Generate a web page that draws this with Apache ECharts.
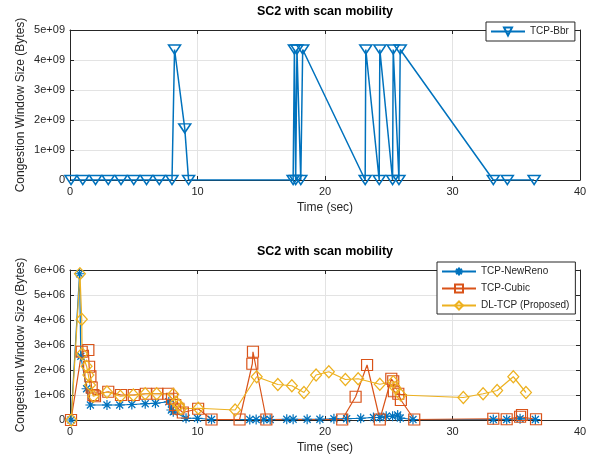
<!DOCTYPE html>
<html>
<head>
<meta charset="utf-8">
<script src="https://cdn.jsdelivr.net/npm/echarts@6/dist/echarts.min.js"></script>
<style>html,body{margin:0;padding:0;background:#fff}#c{width:596px;height:458px}</style>
</head>
<body>
<div id="c"></div>
<script>
// ---------- data ----------
const titleText = 'SC2 with scan mobility';
const xTicks = [0, 10, 20, 30, 40];

// TCP-Bbr (top panel), time in sec, cwnd in bytes
const bbrT = [0.08, 1, 2, 3, 4, 5, 6, 7, 8, 8.2, 9.0, 9.3, 17.5, 17.6, 17.7, 17.8, 18.1, 18.25, 23.15, 23.2, 24.25, 24.3, 25.3, 25.35, 25.8, 25.9, 33.2, 34.3, 36.4];
const bbrV = [0, 0, 0, 0, 0, 0, 0, 0, 0, 4.35e9, 1.72e9, 0, 0, 4.35e9, 0, 4.35e9, 0, 4.35e9, 0, 4.35e9, 0, 4.35e9, 0, 4.35e9, 0, 4.35e9, 0, 0, 0];

// TCP-NewReno (bottom panel)
const renoT = [0.08, 0.75, 0.85, 1.3, 1.6, 2.9, 3.9, 4.85, 5.9, 6.7, 7.75, 7.95, 8.1, 9.1, 10.0, 11.1, 14.1, 14.6, 15.2, 15.7, 17.0, 17.5, 18.6, 19.6, 20.7, 21.7, 22.8, 23.8, 24.3, 24.8, 25.3, 25.7, 25.9, 26.9, 33.2, 34.25, 35.3, 36.5];
const renoV = [0, 5.85e6, 2.55e6, 1.25e6, 0.6e6, 0.6e6, 0.6e6, 0.62e6, 0.65e6, 0.67e6, 0.73e6, 0.4e6, 0.33e6, 0.07e6, 0.07e6, 0.02e6, 0.02e6, 0.02e6, 0.02e6, 0.02e6, 0.03e6, 0.03e6, 0.03e6, 0.03e6, 0.05e6, 0.05e6, 0.07e6, 0.1e6, 0.1e6, 0.15e6, 0.15e6, 0.2e6, 0.08e6, 0.02e6, 0.02e6, 0.02e6, 0.05e6, 0.02e6];

// TCP-Cubic
const cubicT = [0.08, 0.92, 1.44, 1.5, 1.6, 1.7, 1.83, 1.96, 3.0, 4.0, 5.0, 5.95, 6.85, 7.7, 8.0, 8.25, 8.5, 8.85, 10.05, 11.1, 13.3, 14.3, 14.35, 15.4, 21.35, 22.4, 23.3, 24.3, 25.2, 25.35, 25.4, 25.75, 25.95, 27.0, 33.2, 34.25, 35.3, 35.45, 36.55];
const cubicV = [0, 2.73e6, 2.8e6, 2.13e6, 1.75e6, 1.3e6, 1.0e6, 0.95e6, 1.13e6, 1.0e6, 1.0e6, 1.05e6, 1.05e6, 1.05e6, 0.85e6, 0.6e6, 0.45e6, 0.3e6, 0.45e6, 0.02e6, 0.02e6, 2.25e6, 2.73e6, 0.02e6, 0.02e6, 0.93e6, 2.2e6, 0.02e6, 1.65e6, 1.55e6, 1.15e6, 1.05e6, 0.8e6, 0.02e6, 0.05e6, 0.03e6, 0.13e6, 0.2e6, 0.03e6];

// DL-TCP (Proposed)
const dlT = [0.1, 0.78, 0.92, 0.95, 1.3, 1.44, 1.57, 1.83, 2.9, 3.95, 4.97, 5.9, 6.8, 8.1, 8.3, 8.55, 8.7, 10.06, 12.95, 14.64, 16.3, 17.4, 18.35, 19.3, 20.3, 21.6, 22.6, 24.3, 25.35, 25.5, 25.95, 30.85, 32.4, 33.5, 34.77, 35.76];
const dlV = [0, 5.85e6, 4.03e6, 2.65e6, 2.15e6, 1.8e6, 1.4e6, 0.95e6, 1.12e6, 0.95e6, 1.0e6, 1.05e6, 1.05e6, 1.03e6, 0.7e6, 0.6e6, 0.45e6, 0.47e6, 0.4e6, 1.73e6, 1.42e6, 1.37e6, 1.1e6, 1.8e6, 1.93e6, 1.62e6, 1.65e6, 1.43e6, 1.53e6, 1.3e6, 1.0e6, 0.9e6, 1.05e6, 1.18e6, 1.73e6, 1.1e6];

// ---------- chart ----------
const C1 = '#0072BD', C2 = '#D95319', C3 = '#EDB120';
const FONT = '"Liberation Sans", Arial, sans-serif';
const AX = '#262626', GRID = '#e3e3e3';
const zip = (a, b) => a.map((t, i) => [t, b[i]]);
const asterisk = 'path://M0,-10L0,10M-10,0L10,0M-7,-7L7,7M-7,7L7,-7';

function mainX(gi) {
  return {
    gridIndex: gi, type: 'value', min: xTicks[0], max: xTicks[xTicks.length - 1], interval: 10,
    name: 'Time (sec)', nameLocation: 'middle', nameGap: 22,
    nameTextStyle: {fontFamily: FONT, fontSize: 12, color: AX},
    axisLine: {show: true, onZero: false, lineStyle: {color: AX, width: 1}},
    axisTick: {show: true, inside: true, length: 4, lineStyle: {color: AX}},
    axisLabel: {fontFamily: FONT, fontSize: 11, color: AX, margin: 6},
    splitLine: {show: true, lineStyle: {color: GRID, width: 1}}
  };
}
function mirrorX(gi) {
  return {
    gridIndex: gi, type: 'value', min: 0, max: 40, interval: 10, position: 'top',
    axisLine: {show: true, onZero: false, lineStyle: {color: AX, width: 1}},
    axisTick: {show: true, inside: true, length: 4, lineStyle: {color: AX}},
    axisLabel: {show: false}, splitLine: {show: false}
  };
}
function mainY(gi, max, interval, exp) {
  return {
    gridIndex: gi, type: 'value', min: 0, max: max, interval: interval,
    name: 'Congestion Window Size (Bytes)', nameLocation: 'middle', nameGap: 43,
    nameMoveOverlap: false,
    nameTextStyle: {fontFamily: FONT, fontSize: 12, color: AX},
    axisLine: {show: true, onZero: false, lineStyle: {color: AX, width: 1}},
    axisTick: {show: true, inside: true, length: 4, lineStyle: {color: AX}},
    axisLabel: {fontFamily: FONT, fontSize: 11, color: AX, margin: 5,
      formatter: v => v === 0 ? '0' : Math.round(v / interval) + exp},
    splitLine: {show: true, lineStyle: {color: GRID, width: 1}}
  };
}
function mirrorY(gi, max, interval) {
  return {
    gridIndex: gi, type: 'value', min: 0, max: max, interval: interval, position: 'right',
    axisLine: {show: true, onZero: false, lineStyle: {color: AX, width: 1}},
    axisTick: {show: true, inside: true, length: 4, lineStyle: {color: AX}},
    axisLabel: {show: false}, splitLine: {show: false}
  };
}

const chart = echarts.init(document.getElementById('c'), null, {renderer: 'canvas'});
chart.setOption({
  animation: false,
  backgroundColor: '#fff',
  title: [
    {text: titleText, left: 325, top: 5, padding: 0, textAlign: 'center',
     textStyle: {fontFamily: FONT, fontSize: 12.5, fontWeight: 'bold', color: '#000'}},
    {text: titleText, left: 325, top: 245, padding: 0, textAlign: 'center',
     textStyle: {fontFamily: FONT, fontSize: 12.5, fontWeight: 'bold', color: '#000'}}
  ],
  legend: [
    {data: ['TCP-Bbr'], left: 486, top: 22, orient: 'vertical',
     padding: [3, 6, 3, 4], itemWidth: 34, itemHeight: 10,
     borderColor: AX, borderWidth: 1, backgroundColor: '#fff', borderRadius: 0,
     textStyle: {fontFamily: FONT, fontSize: 10, color: AX}},
    {data: ['TCP-NewReno', 'TCP-Cubic', 'DL-TCP (Proposed)'],
     left: 437, top: 262, orient: 'vertical',
     padding: [3, 6, 2, 4], itemWidth: 34, itemHeight: 10, itemGap: 4,
     borderColor: AX, borderWidth: 1, backgroundColor: '#fff', borderRadius: 0,
     textStyle: {fontFamily: FONT, fontSize: 10, color: AX}}
  ],
  grid: [
    {left: 70, right: 16, top: 30, height: 150},
    {left: 70, right: 16, top: 270, height: 150}
  ],
  xAxis: [mainX(0), mainX(1), mirrorX(0), mirrorX(1)],
  yAxis: [mainY(0, 5e9, 1e9, 'e+09'), mainY(1, 6e6, 1e6, 'e+06'), mirrorY(0, 5e9, 1e9), mirrorY(1, 6e6, 1e6)],
  series: [
    {name: 'TCP-Bbr', type: 'line', xAxisIndex: 0, yAxisIndex: 0, data: zip(bbrT, bbrV),
     symbol: 'triangle', symbolSize: [12, 9], symbolRotate: 180, showAllSymbol: true,
     lineStyle: {color: C1, width: 1.5},
     itemStyle: {color: 'none', borderColor: C1, borderWidth: 1.5}},
    {name: 'TCP-NewReno', type: 'line', xAxisIndex: 1, yAxisIndex: 1, data: zip(renoT, renoV),
     symbol: asterisk, symbolSize: 10, showAllSymbol: true,
     lineStyle: {color: C1, width: 1.2},
     itemStyle: {color: 'none', borderColor: C1, borderWidth: 1.2}},
    {name: 'TCP-Cubic', type: 'line', xAxisIndex: 1, yAxisIndex: 1, data: zip(cubicT, cubicV),
     symbol: 'rect', symbolSize: 11, showAllSymbol: true,
     lineStyle: {color: C2, width: 1.2},
     itemStyle: {color: 'none', borderColor: C2, borderWidth: 1.2}},
    {name: 'DL-TCP (Proposed)', type: 'line', xAxisIndex: 1, yAxisIndex: 1, data: zip(dlT, dlV),
     symbol: 'diamond', symbolSize: [11, 12], showAllSymbol: true,
     lineStyle: {color: C3, width: 1.2},
     itemStyle: {color: 'none', borderColor: C3, borderWidth: 1.2}}
  ]
});
</script>
</body>
</html>
